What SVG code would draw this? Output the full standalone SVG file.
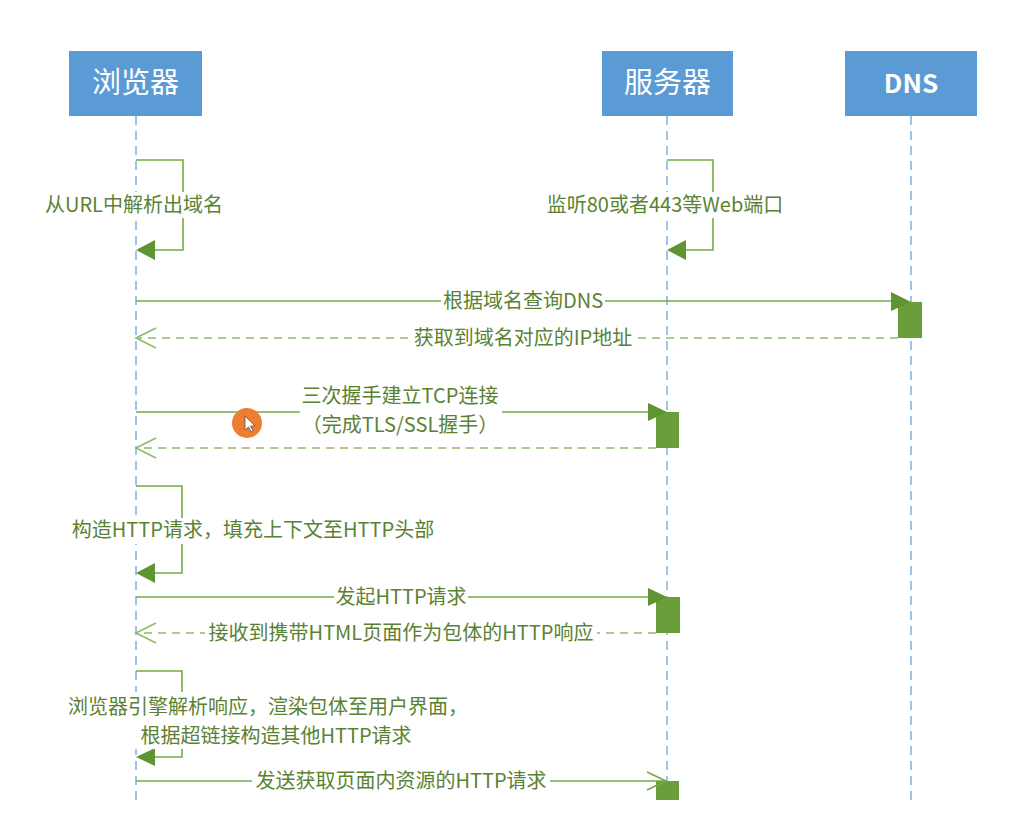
<svg xmlns="http://www.w3.org/2000/svg" width="1014" height="840" viewBox="0 0 1014 840">
<style>
.hdr{fill:#5B9BD5}
.htxt{fill:#ffffff;font-family:"Noto Sans CJK SC","Liberation Sans",sans-serif;font-size:29px;text-anchor:middle}
.life{stroke:#9DC3E6;stroke-width:2;stroke-dasharray:9,6;fill:none}
.ln{stroke:#70AD47;stroke-width:1.6;fill:none}
.dash{stroke:#8CBB6A;stroke-width:1.6;fill:none;stroke-dasharray:8,6}
.open{stroke:#8CBB6A;stroke-width:1.6;fill:none}
.head{fill:#5E9432}
.act{fill:#6A9E3A}
.bg{fill:#ffffff}
.lbl{fill:#5B8233;font-family:"Noto Sans CJK SC","Liberation Sans",sans-serif;font-size:20px;text-anchor:middle}
</style>
<rect width="1014" height="840" fill="#ffffff"/>
<g id="browser">
<rect class="hdr" x="69" y="51" width="133" height="65"/>
<text class="htxt" x="135.5" y="93">浏览器</text>
<line class="life" x1="136" y1="116" x2="136" y2="800"/>
</g>
<g id="server">
<rect class="hdr" x="602" y="51" width="131" height="65"/>
<text class="htxt" x="667.5" y="93">服务器</text>
<line class="life" x1="667" y1="116" x2="667" y2="800"/>
</g>
<g id="dns">
<rect class="hdr" x="845" y="51" width="132" height="65"/>
<text class="htxt" x="911" y="93" style="font-weight:bold;font-size:26px">DNS</text>
<line class="life" x1="911" y1="116" x2="911" y2="800"/>
</g>
<g id="activations">
<rect class="act" x="898" y="302" width="24" height="36"/>
<rect class="act" x="656" y="412" width="23" height="36"/>
<rect class="act" x="656" y="597" width="24" height="36"/>
<rect class="act" x="656" y="781" width="23" height="19"/>
</g>
<g id="connectors">
<path class="ln" d="M136 160 H183 V250 H150"/>
<polygon class="head" points="136,250 155,240 155,260"/>
<path class="ln" d="M667 160 H713 V250 H682"/>
<polygon class="head" points="667,250 686,240 686,260"/>
<line class="ln" x1="136" y1="301" x2="892" y2="301"/>
<polygon class="head" points="891,292 911,302 891,311"/>
<line class="dash" x1="898" y1="338" x2="138" y2="338"/>
<polyline class="open" points="156,328 136,338 156,348"/>
<line class="ln" x1="136" y1="412" x2="649" y2="412"/>
<polygon class="head" points="648,403 667,412 648,421"/>
<line class="dash" x1="656" y1="448" x2="138" y2="448"/>
<polyline class="open" points="156,438 136,448 156,458"/>
<path class="ln" d="M136 486 H182 V573 H150"/>
<polygon class="head" points="136,573 155,563 155,583"/>
<line class="ln" x1="136" y1="597" x2="649" y2="597"/>
<polygon class="head" points="648,588 667,597 648,606"/>
<line class="dash" x1="656" y1="633" x2="138" y2="633"/>
<polyline class="open" points="156,623 136,633 156,643"/>
<path class="ln" d="M136 671 H182 V757 H150"/>
<polygon class="head" points="136,757 155,748 155,766"/>
<line class="ln" x1="136" y1="781" x2="665" y2="781"/>
<polyline class="ln" points="647,772 666,781 647,790"/>
</g>
<g id="labels">
<rect class="bg" x="44" y="192" width="180" height="26"/>
<text class="lbl" x="134" y="212">从URL中解析出域名</text>
<rect class="bg" x="546" y="192" width="238" height="26"/>
<text class="lbl" x="665" y="212">监听80或者443等Web端口</text>
<rect class="bg" x="441" y="289" width="164" height="24"/>
<text class="lbl" x="523" y="308">根据域名查询DNS</text>
<rect class="bg" x="410" y="326" width="226" height="24"/>
<text class="lbl" x="523" y="345">获取到域名对应的IP地址</text>
<rect class="bg" x="300" y="384" width="202" height="54"/>
<text class="lbl" x="400" y="403">三次握手建立TCP连接</text>
<text class="lbl" x="400" y="432">（完成TLS/SSL握手）</text>
<rect class="bg" x="72" y="518" width="362" height="26"/>
<text class="lbl" x="253" y="537">构造HTTP请求，填充上下文至HTTP头部</text>
<rect class="bg" x="334" y="585" width="134" height="24"/>
<text class="lbl" x="401" y="604">发起HTTP请求</text>
<rect class="bg" x="205" y="621" width="392" height="24"/>
<text class="lbl" x="401" y="640">接收到携带HTML页面作为包体的HTTP响应</text>
<rect class="bg" x="64" y="692" width="408" height="57"/>
<text class="lbl" x="268" y="714">浏览器引擎解析响应，渲染包体至用户界面，</text>
<text class="lbl" x="276" y="743">根据超链接构造其他HTTP请求</text>
<rect class="bg" x="252" y="769" width="298" height="24"/>
<text class="lbl" x="401" y="788">发送获取页面内资源的HTTP请求</text>
</g>
<g id="cursor">
<circle cx="247" cy="423" r="15" fill="#ED7D31"/>
<polygon points="245,416 245,430 248.5,427 251,432 253,431 250.5,426 255,426" fill="#ffffff" stroke="#555555" stroke-width="0.8"/>
</g>
</svg>
